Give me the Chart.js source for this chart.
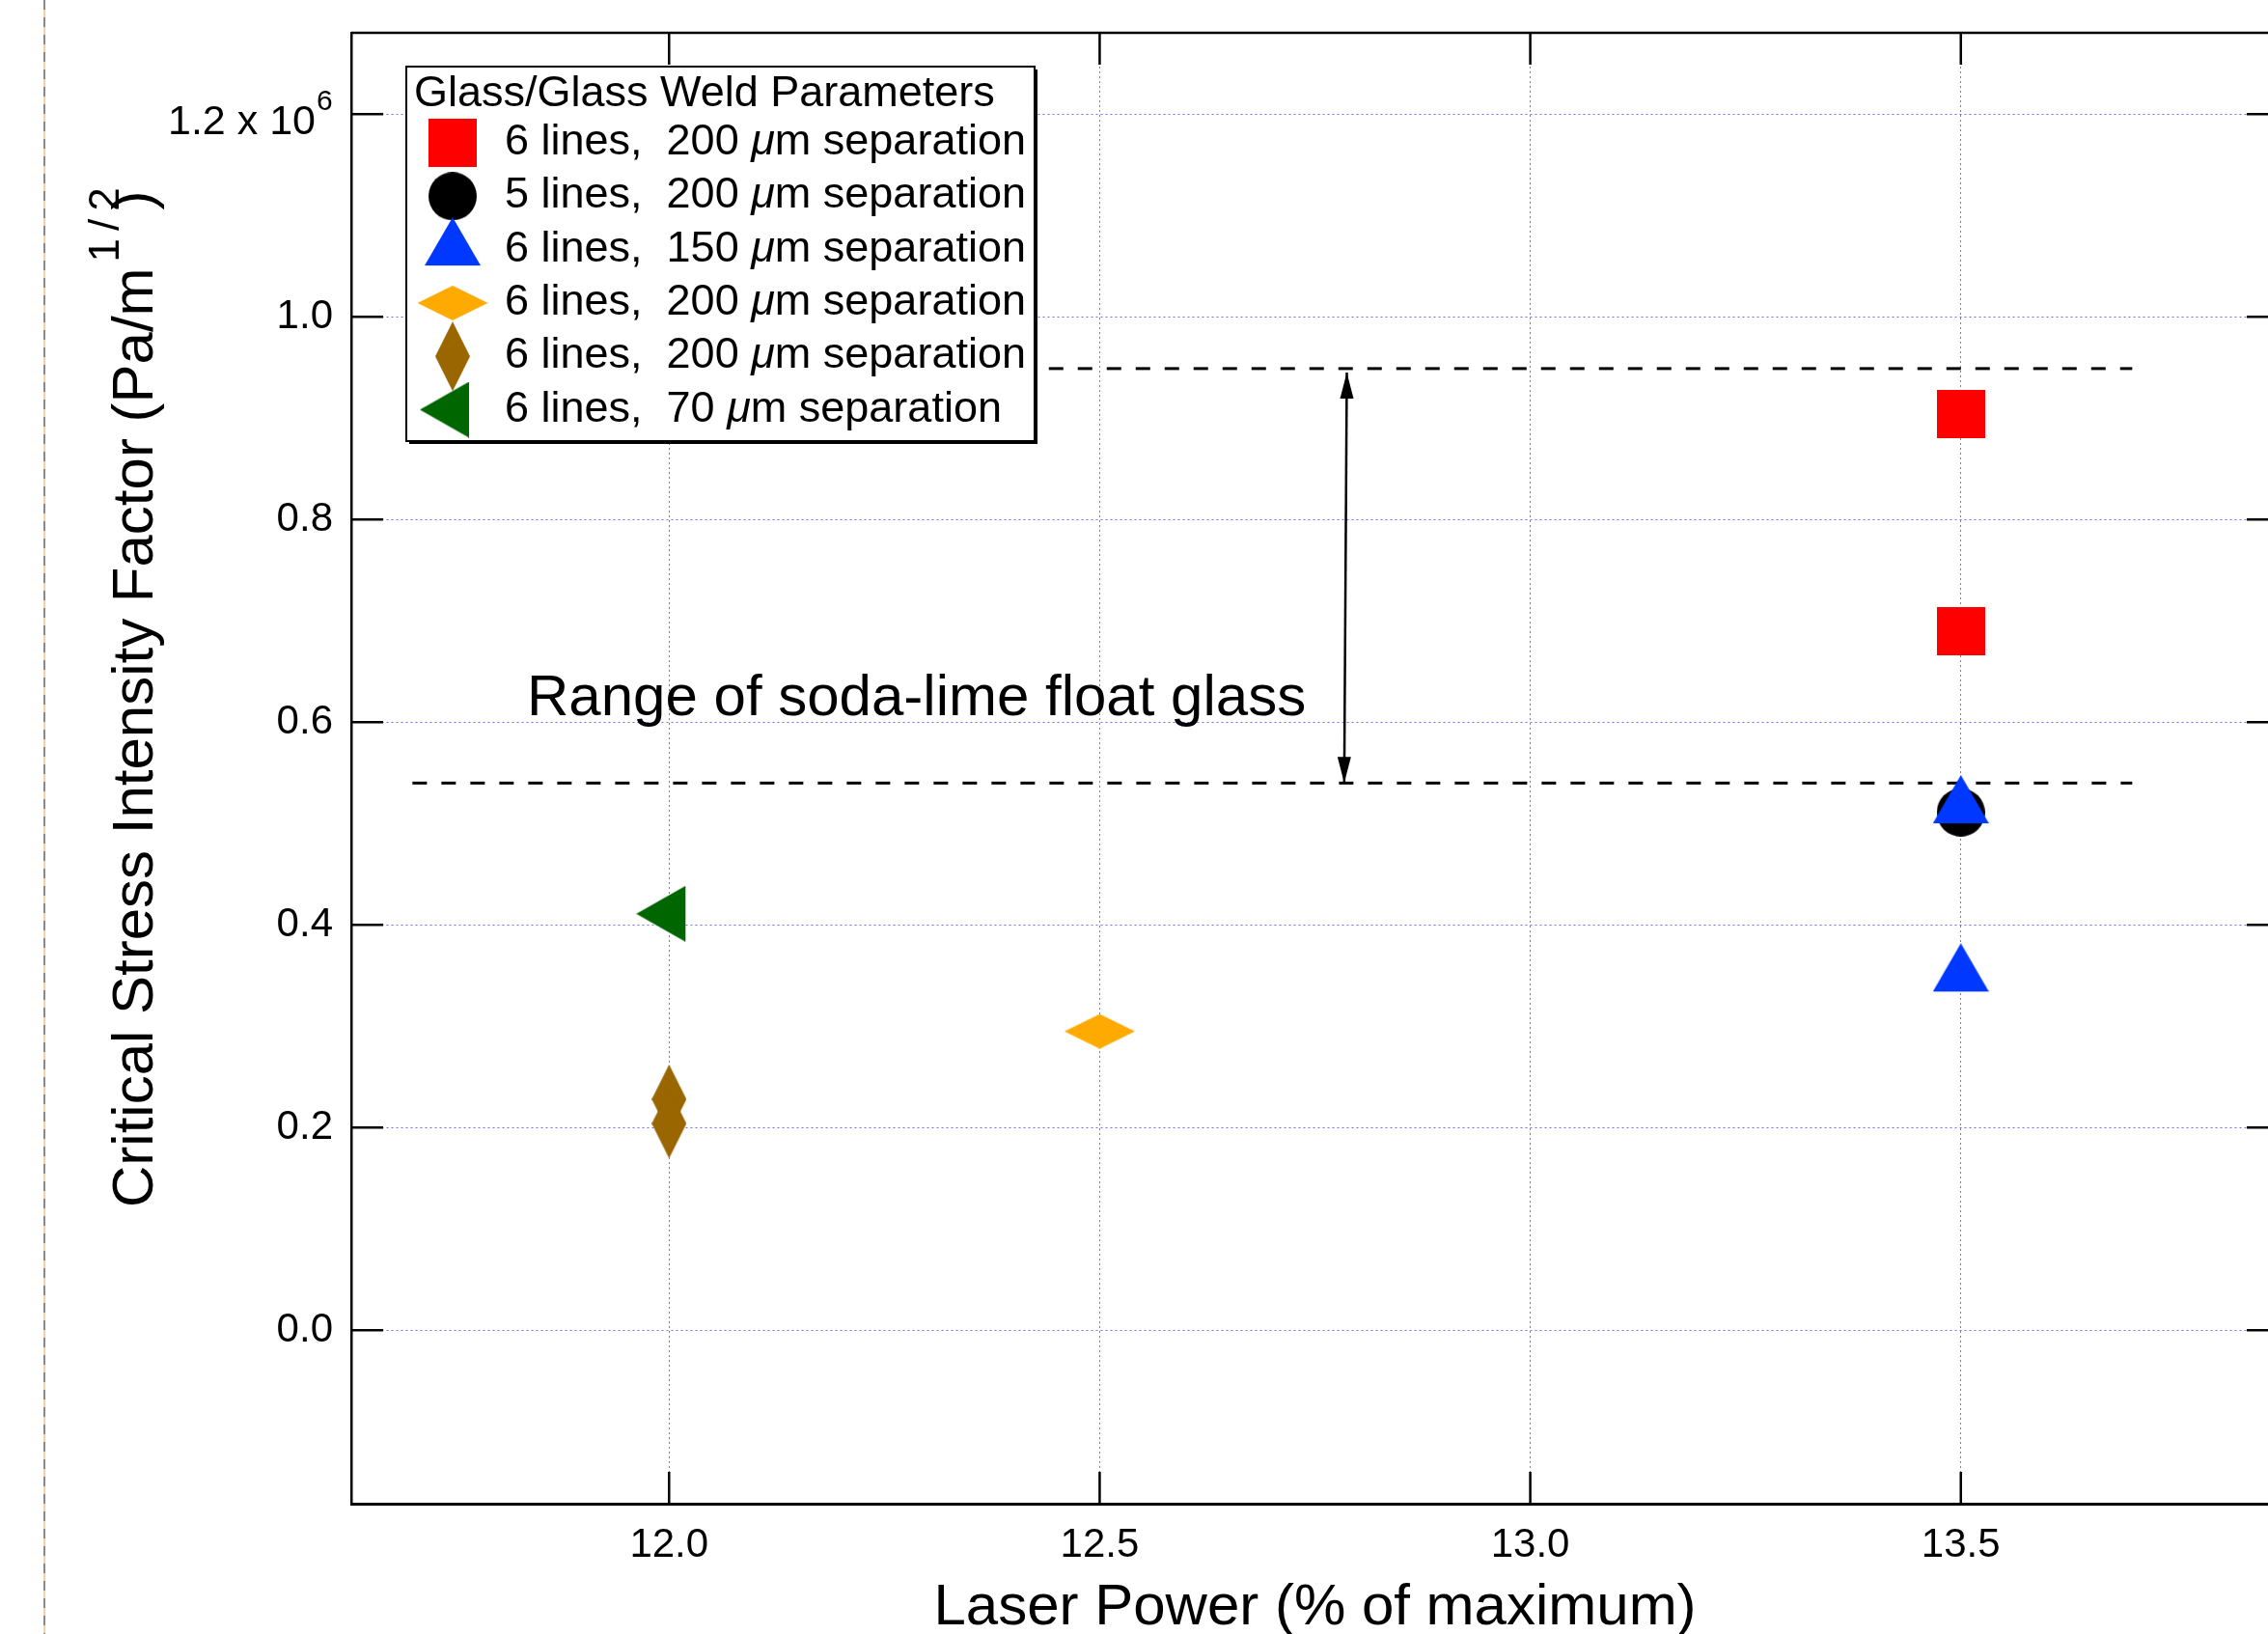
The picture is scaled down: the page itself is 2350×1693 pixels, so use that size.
<!DOCTYPE html>
<html><head><meta charset="utf-8">
<script src="https://cdn.jsdelivr.net/npm/chart.js@4.4.1/dist/chart.umd.min.js"></script>
<style>html,body{margin:0;padding:0;background:#fff;overflow:hidden;}#wrap{width:2380px;height:1693px;}</style>
</head><body><div id="wrap"><canvas id="c" width="2380" height="1693" style="width:2380px;height:1693px"></canvas></div>
<script>
// Critical stress intensity factor values, in units of 10^6 Pa/m^1/2
const redX = [13.5, 13.5],   redY = [0.904, 0.690];
const blackX = [13.5],       blackY = [0.511];
const blueX = [13.5, 13.5],  blueY = [0.516, 0.350];
const orangeX = [12.5],      orangeY = [0.295];
const brownX = [12.0, 12.0], brownY = [0.228, 0.204];
const greenX = [12.0],       greenY = [0.411];
const seriesLabels = ['6 lines,  200 μm separation', '5 lines,  200 μm separation', '6 lines,  150 μm separation',
                      '6 lines,  200 μm separation', '6 lines,  200 μm separation', '6 lines,  70 μm separation'];
const legendTitle = 'Glass/Glass Weld Parameters';
const xTicks = [12.0, 12.5, 13.0, 13.5];
const xTickLabels = ['12.0', '12.5', '13.0', '13.5'];
const yTicks = [0, 0.2, 0.4, 0.6, 0.8, 1.0, 1.2];
const yTickLabels = ['0.0', '0.2', '0.4', '0.6', '0.8', '1.0', '1.2 x 10'];
const yTickExponent = '6';
const xTitle = 'Laser Power (% of maximum)';
const yTitleMain = 'Critical Stress Intensity Factor (Pa/m';
const yTitleSup = '1/2';
const yTitleEnd = ')';
// range of soda-lime float glass
const rangeLowX = [11.702, 13.699],  rangeLowY = [0.540, 0.540];
const rangeHighX = [12.441, 13.699], rangeHighY = [0.949, 0.949];
const arrowX = [12.787, 12.784],     arrowY = [0.945, 0.540];
const rangeText = 'Range of soda-lime float glass';
const rangeTextPos = [11.835, 0.607];

const FONT = '"Liberation Sans", Arial, Helvetica, sans-serif';
const pts = (xs, ys) => xs.map((x, i) => ({x: x, y: ys[i]}));

function mk(w, h, color, path) {
  const c = document.createElement('canvas');
  c.width = w; c.height = h;
  const g = c.getContext('2d');
  g.fillStyle = color;
  g.beginPath(); path(g); g.closePath(); g.fill();
  return c;
}
const markers = [
  mk(50, 50, '#ff0000', g => g.rect(0, 0, 50, 50)),
  mk(50, 50, '#000000', g => g.arc(25, 25, 25, 0, Math.PI * 2)),
  mk(58, 67, '#0038ff', g => { g.moveTo(29, 0); g.lineTo(58, 50); g.lineTo(0, 50); }),
  mk(73, 36, '#ffaa00', g => { g.moveTo(0, 18); g.lineTo(36.5, 0); g.lineTo(73, 18); g.lineTo(36.5, 36); }),
  mk(36, 72, '#996600', g => { g.moveTo(18, 0); g.lineTo(36, 36); g.lineTo(18, 72); g.lineTo(0, 36); }),
  mk(68, 58, '#006600', g => { g.moveTo(0, 29); g.lineTo(51, 0); g.lineTo(51, 58); })
];

const seriesData = [pts(redX, redY), pts(blackX, blackY), pts(blueX, blueY), pts(orangeX, orangeY), pts(brownX, brownY), pts(greenX, greenY)];
const datasets = seriesData.map((d, i) => ({
  label: seriesLabels[i], data: d, pointStyle: markers[i], pointRadius: 25, showLine: false, order: 6 - i
}));
datasets.push({label: 'lowRange', data: pts(rangeLowX, rangeLowY), showLine: true, borderColor: '#000', borderWidth: 3, borderDash: [15, 15], pointRadius: 0, order: 10, borderCapStyle: 'butt'});
datasets.push({label: 'highRange', data: pts(rangeHighX, rangeHighY), showLine: true, borderColor: '#000', borderWidth: 3, borderDash: [15, 15], pointRadius: 0, order: 10, borderCapStyle: 'butt'});
datasets.push({label: 'arrow', data: pts(arrowX, arrowY), showLine: true, borderColor: '#000', borderWidth: 2.5, pointRadius: 0, order: 9});

const deco = {
  id: 'deco',
  beforeDraw(chart) {
    const ctx = chart.ctx;
    ctx.save();
    ctx.fillStyle = '#fff';
    ctx.fillRect(0, 0, chart.width, chart.height);
    ctx.lineWidth = 2;
    ctx.strokeStyle = '#f6d3a6';
    ctx.beginPath(); ctx.moveTo(46, 0); ctx.lineTo(46, chart.height); ctx.stroke();
    ctx.strokeStyle = '#8a8a8a';
    ctx.setLineDash([10, 8]);
    ctx.beginPath(); ctx.moveTo(46, 0); ctx.lineTo(46, chart.height); ctx.stroke();
    ctx.restore();
  },
  afterDatasetsDraw(chart) {
    const ctx = chart.ctx, xs = chart.scales.x, ys = chart.scales.y;
    ctx.save();
    ctx.fillStyle = '#000';
    const tx = xs.getPixelForValue(arrowX[0]), ty = ys.getPixelForValue(arrowY[0]);
    const bx = xs.getPixelForValue(arrowX[1]), by = ys.getPixelForValue(arrowY[1]);
    ctx.beginPath(); ctx.moveTo(tx, ty); ctx.lineTo(tx - 7, ty + 27); ctx.lineTo(tx + 7, ty + 27); ctx.closePath(); ctx.fill();
    ctx.beginPath(); ctx.moveTo(bx, by); ctx.lineTo(bx - 7, by - 27); ctx.lineTo(bx + 7, by - 27); ctx.closePath(); ctx.fill();
    // annotation text
    ctx.font = '60px ' + FONT;
    ctx.textAlign = 'left'; ctx.textBaseline = 'alphabetic';
    ctx.fillText(rangeText, xs.getPixelForValue(rangeTextPos[0]), ys.getPixelForValue(rangeTextPos[1]));
    ctx.restore();
  },
  afterDraw(chart) {
    const ctx = chart.ctx, xs = chart.scales.x, ys = chart.scales.y, ca = chart.chartArea;
    ctx.save();
    ctx.strokeStyle = '#000';
    // top and right frame
    ctx.lineWidth = 2.5;
    ctx.beginPath(); ctx.moveTo(ca.left, ca.top); ctx.lineTo(ca.right, ca.top); ctx.lineTo(ca.right, ca.bottom); ctx.stroke();
    // inward ticks on all four sides
    const T = 33;
    xs.ticks.forEach(t => {
      const p = xs.getPixelForValue(t.value);
      ctx.beginPath(); ctx.moveTo(p, ca.bottom); ctx.lineTo(p, ca.bottom - T); ctx.stroke();
      ctx.beginPath(); ctx.moveTo(p, ca.top); ctx.lineTo(p, ca.top + T); ctx.stroke();
    });
    ys.ticks.forEach(t => {
      const p = ys.getPixelForValue(t.value);
      ctx.beginPath(); ctx.moveTo(ca.left, p); ctx.lineTo(ca.left + T, p); ctx.stroke();
      ctx.beginPath(); ctx.moveTo(ca.right, p); ctx.lineTo(ca.right - T, p); ctx.stroke();
    });
    // top y tick label with exponent
    ctx.fillStyle = '#000';
    const p12 = ys.getPixelForValue(yTicks[6]);
    ctx.font = '43px ' + FONT; ctx.textAlign = 'right'; ctx.textBaseline = 'alphabetic';
    ctx.fillText(yTickLabels[6], ca.left - 37, p12 + 21);
    ctx.font = '30px ' + FONT; ctx.textAlign = 'left';
    ctx.fillText(yTickExponent, ca.left - 36, p12 - 4);
    // y axis title
    ctx.save();
    ctx.translate(158, 1251);
    ctx.rotate(-Math.PI / 2);
    ctx.font = '60px ' + FONT; ctx.textAlign = 'left';
    ctx.fillText(yTitleMain, 0, 0);
    const w = ctx.measureText(yTitleMain).width;
    ctx.font = '44px ' + FONT;
    ctx.letterSpacing = '8px';
    ctx.fillText(yTitleSup, w + 6, -35);
    ctx.letterSpacing = '0px';
    ctx.font = '60px ' + FONT;
    ctx.fillText(yTitleEnd, w + 60, 0);
    ctx.restore();
    // legend
    const L = {x: ca.left + 57, y: ca.top + 35, w: 651, h: 388};
    ctx.fillStyle = '#000';
    ctx.fillRect(L.x + 3, L.y + 3, L.w, L.h);
    ctx.fillStyle = '#fff';
    ctx.fillRect(L.x, L.y, L.w, L.h);
    ctx.lineWidth = 2;
    ctx.strokeRect(L.x, L.y, L.w, L.h);
    ctx.fillStyle = '#000';
    ctx.font = '45px ' + FONT; ctx.textAlign = 'left'; ctx.textBaseline = 'alphabetic';
    ctx.fillText(legendTitle, L.x + 8, L.y + 41);
    chart.data.datasets.slice(0, 6).forEach((ds, i) => {
      const cy = L.y + 79 + i * 55.3;
      const m = ds.pointStyle;
      ctx.drawImage(m, L.x + 48 - m.width / 2, cy - m.height / 2);
      const parts = ds.label.split('μ');
      let x = L.x + 102;
      const by = cy + 12;
      ctx.font = '45px ' + FONT;
      ctx.fillText(parts[0], x, by); x += ctx.measureText(parts[0]).width;
      ctx.font = 'italic 45px ' + FONT;
      ctx.fillText('μ', x, by); x += ctx.measureText('μ').width;
      ctx.font = '45px ' + FONT;
      ctx.fillText(parts[1], x, by);
    });
    ctx.restore();
  }
};

new Chart(document.getElementById('c'), {
  type: 'scatter',
  data: {datasets: datasets},
  plugins: [deco],
  options: {
    responsive: false, animation: false, devicePixelRatio: 1, events: [],
    layout: {autoPadding: false, padding: {left: 0, top: 34, right: 19, bottom: 0}},
    plugins: {legend: {display: false}, tooltip: {enabled: false}},
    scales: {
      x: {
        type: 'linear', min: 11.631, max: 13.869,
        afterBuildTicks: s => { s.ticks = xTicks.map(v => ({value: v})); },
        afterFit: s => { s.height = 135; s.paddingLeft = 0; s.paddingRight = 0; s.paddingTop = 0; s.paddingBottom = 0; },
        ticks: {callback: (v, i) => xTickLabels[i], font: {family: FONT, size: 42}, color: '#000', padding: 18, maxRotation: 0, autoSkip: false},
        grid: {color: '#7070ff', lineWidth: 1, drawTicks: false},
        border: {display: true, color: '#000', width: 3, dash: [2, 3]},
        title: {display: true, text: xTitle, color: '#000', font: {family: FONT, size: 60, lineHeight: 0.9}, padding: {top: 0, bottom: 0}}
      },
      y: {
        type: 'linear', min: -0.1711, max: 1.2803,
        afterBuildTicks: s => { s.ticks = yTicks.map(v => ({value: v})); },
        afterFit: s => { s.width = 364; s.paddingLeft = 0; s.paddingRight = 0; s.paddingTop = 0; s.paddingBottom = 0; },
        ticks: {callback: (v, i) => (i === 6 ? '' : yTickLabels[i]), font: {family: FONT, size: 42}, color: '#000', padding: 19, autoSkip: false},
        grid: {color: '#7070ff', lineWidth: 1, drawTicks: false},
        border: {display: true, color: '#000', width: 2.5, dash: [2, 3]}
      }
    }
  }
});
</script></body></html>
